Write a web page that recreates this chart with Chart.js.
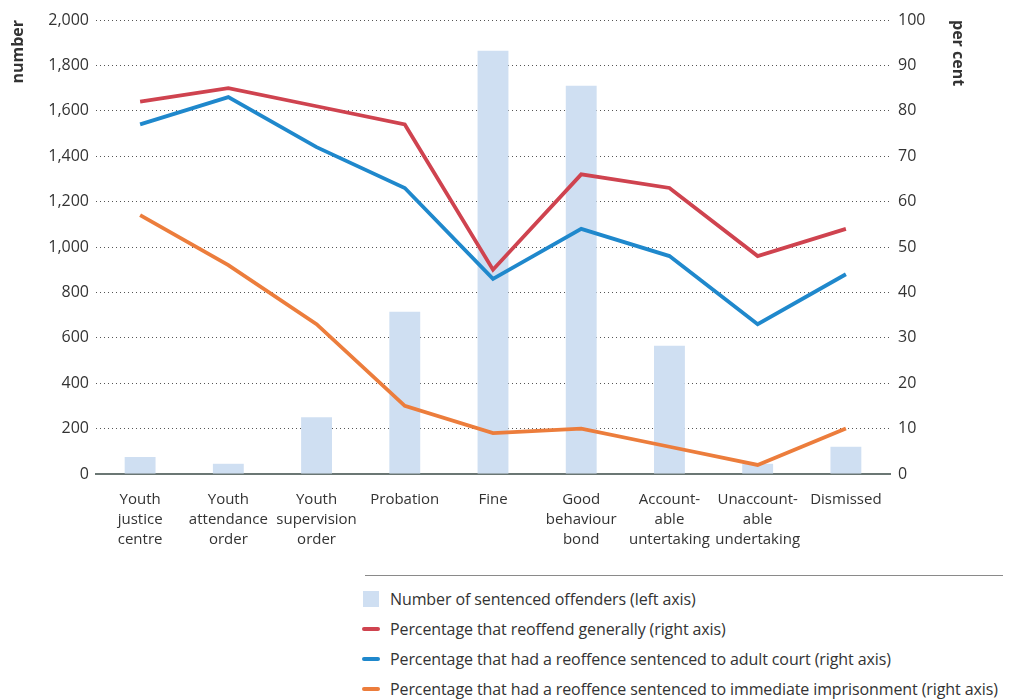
<!DOCTYPE html>
<html>
<head>
<meta charset="utf-8">
<script src="https://cdn.jsdelivr.net/npm/chart.js@4"></script>
<style>
  html, body { margin: 0; padding: 0; background: #fff; }
  body { width: 1013px; height: 699px; position: relative; overflow: hidden; font-family: "Open Sans", Roboto, sans-serif; }
  #wrap { position: absolute; left: 0; top: 0; width: 1013px; height: 560px; }
  #legend { position: absolute; left: 365px; top: 575px; width: 638px; border-top: 1.5px solid #8a8a8a; padding-top: 8px; }
  .item { position: relative; height: 30px; line-height: 30px; font-size: 16px; color: #333; padding-left: 27px; margin-left: -2px; white-space: nowrap; letter-spacing: -0.1px; }
  .swatch { position: absolute; left: 0; }
</style>
</head>
<body>
<div id="wrap"><canvas id="chart"></canvas></div>
<div id="legend"></div>
<script>
// -- DATA ----------------------------------------------
const categories = [
  ["Youth", "justice", "centre"],
  ["Youth", "attendance", "order"],
  ["Youth", "supervision", "order"],
  ["Probation"],
  ["Fine"],
  ["Good", "behaviour", "bond"],
  ["Account-", "able", "untertaking"],
  ["Unaccount-", "able", "undertaking"],
  ["Dismissed"]
];
const offenders = [75, 45, 250, 715, 1865, 1710, 565, 45, 120];
const reoffendGenerally = [82, 85, 81, 77, 45, 66, 63, 48, 54];
const adultCourt = [77, 83, 72, 63, 43, 54, 48, 33, 44];
const imprisonment = [57, 46, 33, 15, 9, 10, 6, 2, 10];

const leftTicks = [0, 200, 400, 600, 800, 1000, 1200, 1400, 1600, 1800, 2000];
const rightTicks = [0, 10, 20, 30, 40, 50, 60, 70, 80, 90, 100];

const labels = {
  bars: "Number of sentenced offenders (left axis)",
  red: "Percentage that reoffend generally (right axis)",
  blue: "Percentage that had a reoffence sentenced to adult court (right axis)",
  orange: "Percentage that had a reoffence sentenced to immediate imprisonment (right axis)"
};

const colors = { bar: "#cfdff2", red: "#cf434f", blue: "#1f88cc", orange: "#ec7d3c", text: "#333333", grid: "#555555", axis: "#6b7774" };
const fontFamily = "'Open Sans', Roboto, sans-serif";

// -- CHART ---------------------------------------------
function lineSet(label, data, color) {
  return {
    type: "line",
    label: label,
    data: data,
    yAxisID: "yRight",
    borderColor: color,
    backgroundColor: color,
    borderWidth: 3.8,
    pointRadius: 0,
    tension: 0,
    order: 0
  };
}

const ctx = document.getElementById("chart");
const chart = new Chart(ctx, {
  data: {
    labels: categories,
    datasets: [
      lineSet(labels.red, reoffendGenerally, colors.red),
      lineSet(labels.blue, adultCourt, colors.blue),
      lineSet(labels.orange, imprisonment, colors.orange),
      {
        type: "bar",
        label: labels.bars,
        data: offenders,
        yAxisID: "yLeft",
        backgroundColor: colors.bar,
        categoryPercentage: 1,
        barPercentage: 0.35,
        order: 1
      }
    ]
  },
  options: {
    responsive: true,
    maintainAspectRatio: false,
    animation: false,
    layout: { padding: { top: 20, left: 0, right: 0, bottom: 0 } },
    plugins: { legend: { display: false }, tooltip: { enabled: false } },
    scales: {
      x: {
        grid: { display: false, drawTicks: false },
        border: { display: true, color: colors.axis, width: 2 },
        ticks: { color: colors.text, font: { family: fontFamily, size: 15, lineHeight: 1.33 }, padding: 16, maxRotation: 0, autoSkip: false },
        afterFit(scale) { scale.height = 86; }
      },
      yLeft: {
        position: "left",
        min: 0,
        max: 2000,
        afterBuildTicks(scale) { scale.ticks = leftTicks.map((v) => ({ value: v })); },
        ticks: {
          color: colors.text,
          font: { family: fontFamily, size: 16 },
          padding: 7,
          callback: (v) => v.toLocaleString("en-US")
        },
        grid: {
          drawTicks: false,
          color: (c) => (c.tick && c.tick.value === 0 ? "rgba(0,0,0,0)" : colors.grid),
          lineWidth: 1
        },
        border: { display: false, dash: [1, 3] },
        title: { display: true, text: "number", align: "end", color: colors.text, font: { family: fontFamily, size: 16, weight: "bold" }, padding: { top: 9 } },
        afterFit(scale) { scale.width = 96; }
      },
      yRight: {
        position: "right",
        min: 0,
        max: 100,
        afterBuildTicks(scale) { scale.ticks = rightTicks.map((v) => ({ value: v })); },
        ticks: { color: colors.text, font: { family: fontFamily, size: 16 }, padding: 8 },
        grid: { display: false, drawTicks: false },
        border: { display: false },
        title: { display: true, text: "per cent", align: "end", color: colors.text, font: { family: fontFamily, size: 16, weight: "bold" }, padding: { top: 46 } },
        afterFit(scale) { scale.width = 123; }
      }
    }
  }
});

// -- LEGEND --------------------------------------------
const legendRows = [
  { text: labels.bars, color: colors.bar, kind: "box" },
  { text: labels.red, color: colors.red, kind: "line" },
  { text: labels.blue, color: colors.blue, kind: "line" },
  { text: labels.orange, color: colors.orange, kind: "line" }
];
const legendEl = document.getElementById("legend");
legendRows.forEach((row) => {
  const item = document.createElement("div");
  item.className = "item";
  const sw = document.createElement("span");
  sw.className = "swatch";
  if (row.kind === "box") {
    sw.style.cssText = "left:0;top:7px;width:16px;height:16px;background:" + row.color;
  } else {
    sw.style.cssText = "left:-1px;top:13px;width:18px;height:4px;border-radius:2px;background:" + row.color;
  }
  item.appendChild(sw);
  item.appendChild(document.createTextNode(row.text));
  legendEl.appendChild(item);
});
</script>
</body>
</html>
